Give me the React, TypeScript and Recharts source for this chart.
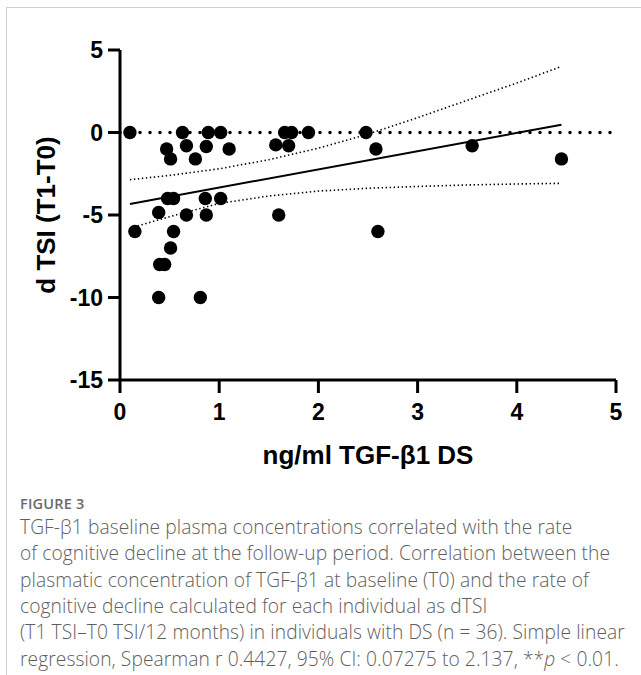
import React from "react";
import { ScatterChart, Scatter, XAxis, YAxis, ReferenceLine, Label } from "recharts";

// TGF-β1 baseline (ng/ml) vs dTSI
const tgfValues = [0.10, 0.15, 0.39, 0.40, 0.45, 0.39, 0.47, 0.51, 0.48, 0.54, 0.51, 0.54, 0.63, 0.67, 0.67, 0.76, 0.81, 0.87, 0.86, 0.87, 0.89, 1.015, 1.015, 1.10, 1.57, 1.60, 1.66, 1.73, 1.70, 1.90, 2.48, 2.58, 2.60, 3.55, 4.45];
const dtsiValues = [0, -6, -4.85, -8, -8, -10, -1, -1.6, -4, -4, -7, -6, 0, -0.8, -5, -1.6, -10, -0.85, -4, -5, 0, 0, -4, -1, -0.75, -5, 0, 0, -0.8, 0, 0, -1, -6, -0.8, -1.6];

// regression line (read at the ends of the data range)
const fitX = [0.10, 4.45];
const fitY = [-4.33, 0.47];

// 95% confidence band
const bandX = [0.10, 0.5, 1.0, 1.5, 2.0, 2.5, 3.0, 3.5, 4.0, 4.45];
const bandUpper = [-2.86, -2.6, -2.2, -1.65, -0.95, -0.1, 0.9, 1.95, 3.0, 4.0];
const bandLower = [-5.8, -5.1, -4.3, -3.85, -3.55, -3.38, -3.27, -3.18, -3.12, -3.08];

const xTicks = [0, 1, 2, 3, 4, 5];
const yTicks = [-15, -10, -5, 0, 5];

const captionTitle = "FIGURE 3";
const captionLines = [
  "TGF-β1 baseline plasma concentrations correlated with the rate",
  "of cognitive decline at the follow-up period. Correlation between the",
  "plasmatic concentration of TGF-β1 at baseline (T0) and the rate of",
  "cognitive decline calculated for each individual as dTSI",
  "(T1 TSI–T0 TSI/12 months) in individuals with DS (n = 36). Simple linear",
];
const captionLastPre = "regression, Spearman r 0.4427, 95% CI: 0.07275 to 2.137, **";
const captionLastP = "p";
const captionLastPost = " < 0.01.";

const points = tgfValues.map((x, i) => ({ x, y: dtsiValues[i] }));
const fitData = fitX.map((x, i) => ({ x, y: fitY[i] }));
const upperData = bandX.map((x, i) => ({ x, y: bandUpper[i] }));
const lowerData = bandX.map((x, i) => ({ x, y: bandLower[i] }));

const FONT = '"Liberation Sans", Arial, Helvetica, sans-serif';
const tickStyle = { fontSize: 23, fontWeight: 700, fill: "#000", fontFamily: FONT };
const captionFont: React.CSSProperties = { fontFamily: '"Open Sans", sans-serif', fontSize: 19.2, fontWeight: 300, color: "#5e5e5e", lineHeight: "26px", whiteSpace: "nowrap", position: "absolute", left: 20, letterSpacing: 0.08 };

const Dot = (props: any) => <circle cx={props.cx} cy={props.cy} r={6.7} fill="#000" />;
const NoShape = () => <g />;

export default function App() {
  return (
    <div style={{ position: "absolute", left: 0, top: 0, width: 641, height: 675, background: "#fff", overflow: "hidden" }}>
      <div style={{ position: "absolute", left: 6, top: 7, width: 700, height: 700, borderTop: "1px solid #cfcfcf", borderLeft: "1px solid #cfcfcf" }} />
      <div style={{ position: "absolute", left: 0, top: 0 }}>
        <ScatterChart width={641} height={480} margin={{ top: 50, right: 25, bottom: 0, left: 0 }}>
          <XAxis
            type="number"
            dataKey="x"
            domain={[0, 5]}
            ticks={xTicks}
            height={100}
            axisLine={{ stroke: "#000", strokeWidth: 3 }}
            tickLine={{ stroke: "#000", strokeWidth: 3 }}
            tickSize={13}
            tickMargin={11}
            tick={tickStyle}
            allowDataOverflow
          >
            <Label value="ng/ml TGF-β1 DS" position="center" dy={25} style={{ fontSize: 26, fontWeight: 700, fill: "#000", fontFamily: FONT }} />
          </XAxis>
          <YAxis
            type="number"
            dataKey="y"
            domain={[-15, 5]}
            ticks={yTicks}
            width={120}
            axisLine={{ stroke: "#000", strokeWidth: 3 }}
            tickLine={{ stroke: "#000", strokeWidth: 3 }}
            tickSize={12}
            tickMargin={5}
            tick={tickStyle}
            allowDataOverflow
          >
            <Label value="d TSI (T1-T0)" angle={-90} position="center" dx={-14} style={{ fontSize: 26, fontWeight: 700, fill: "#000", fontFamily: FONT, textAnchor: "middle" }} />
          </YAxis>
          <ReferenceLine y={0} stroke="#000" strokeWidth={3.5} strokeDasharray="0 10" strokeLinecap="round" />
          <Scatter data={upperData} shape={NoShape} line={{ stroke: "#000", strokeWidth: 1.6, strokeDasharray: "1.4 2.6" }} isAnimationActive={false} />
          <Scatter data={lowerData} shape={NoShape} line={{ stroke: "#000", strokeWidth: 1.6, strokeDasharray: "1.4 2.6" }} isAnimationActive={false} />
          <Scatter data={fitData} shape={NoShape} line={{ stroke: "#000", strokeWidth: 2 }} isAnimationActive={false} />
          <Scatter data={points} shape={Dot} isAnimationActive={false} />
        </ScatterChart>
      </div>
      <div style={{ position: "absolute", left: 20, top: 494, fontFamily: '"Open Sans", sans-serif', fontSize: 14.5, fontWeight: 600, color: "#6a6a6a", letterSpacing: 0.2 }}>
        {captionTitle}
      </div>
      {captionLines.map((t, i) => (
        <div key={i} style={{ ...captionFont, top: 514 + i * 26.3 }}>
          {t}
        </div>
      ))}
      <div style={{ ...captionFont, top: 514 + 5 * 26.3 }}>
        {captionLastPre}
        <i>{captionLastP}</i>
        {captionLastPost}
      </div>
    </div>
  );
}
